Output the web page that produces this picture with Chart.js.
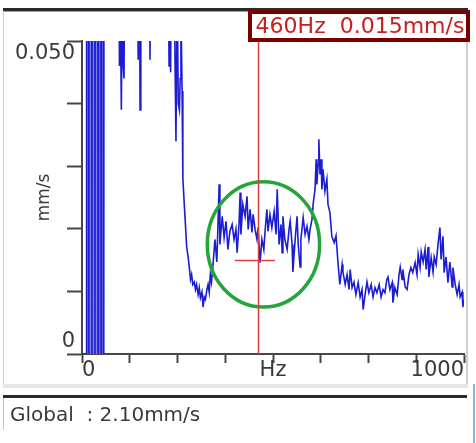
<!DOCTYPE html>
<html>
<head>
<meta charset="utf-8">
<script src="https://cdn.jsdelivr.net/npm/chart.js@4/dist/chart.umd.min.js"></script>
<style>
  html, body { margin: 0; padding: 0; background: #fff; }
  canvas { display: block; }
</style>
</head>
<body>
<canvas id="spectrum" width="476" height="443"></canvas>
<script>
// velocity spectrum: frequency (Hz) and amplitude (1/1000 mm/s)
const freqHz = [
  0, 11, 12, 17, 18, 19, 25, 26, 27, 33, 34, 35, 41, 42, 43, 49, 50, 51, 56, 57, 58,
  62, 75, 90, 95, 98, 101,
  103, 105, 107, 110, 113, 125, 140, 145, 147, 150,
  152, 154, 157, 170, 176, 178, 180, 195, 210, 220,
  224, 226, 228, 230, 232, 234, 240, 246, 249, 252,
  255, 257, 259, 262, 264, 267, 270, 274, 278, 281,
  284, 287, 290, 294, 297, 300, 304, 307, 310, 314,
  317, 320, 323, 327, 330, 333, 336, 339, 343, 348,
  353, 359, 361, 367, 372, 377, 382, 387, 393, 398,
  403, 406, 411, 414, 416, 421, 427, 432, 435, 440,
  445, 448, 453, 458, 461, 466, 471, 476, 479, 484,
  487, 492, 497, 503, 508, 511, 516, 521, 524, 526,
  531, 537, 542, 545, 550, 552, 558, 563, 566, 571,
  573, 579, 584, 589, 594, 597, 602, 605, 610, 613,
  615, 618, 620, 623, 626, 628, 631, 636, 641, 644,
  649, 654, 660, 665, 670, 675, 681, 683, 689, 694,
  699, 702, 707, 712, 717, 723, 728, 733, 736, 741,
  746, 751, 757, 762, 767, 772, 778, 783, 788, 793,
  798, 801, 806, 812, 814, 819, 825, 830, 833, 838,
  840, 846, 851, 856, 861, 866, 872, 877, 880, 885,
  888, 893, 898, 901, 906, 908, 914, 919, 922, 927,
  932, 937, 940, 945, 948, 953, 958, 963, 969, 971,
  977, 982, 987, 990, 995, 997, 1000
];
const ampUm = [
  0, 0, 150, 150, 0, 150, 150, 0, 150, 150, 0, 150, 150, 0, 150, 150, 0, 150, 150, 0, 150,
  120, 100, 95, 80, 46, 52,
  39, 55, 47, 44, 80, 95, 100, 80, 47, 70,
  39, 60, 85, 95, 75, 47, 75, 100, 90, 70,
  50, 60, 46, 52, 45, 70, 65, 34, 60, 40,
  39, 44, 55, 42, 28.2, 24.7, 21.5, 17.1, 15.4, 13.8,
  11.9, 12.7, 11.1, 11.5, 10.3, 11.1, 9.5, 10.6, 9.0, 9.9,
  7.5, 9.1, 8.7, 10.3, 11.1, 9.9, 12.7, 11.5, 14.3, 18.3,
  14.7, 27.1, 17.5, 22.0, 18.6, 21.2, 16.7, 19.6, 20.7, 18.3,
  19.9, 16.2, 20.7, 25.8, 19.1, 23.9, 22.0, 25.2, 19.9, 23.1,
  19.4, 22.3, 19.9, 18.3, 20.2, 14.6, 18.3, 16.7, 19.4, 23.1,
  19.6, 22.3, 20.2, 22.8, 19.1, 26.3, 17.5, 20.7, 16.2, 22.0,
  18.3, 16.7, 19.9, 21.2, 17.5, 13.1, 18.3, 22.0, 17.5, 13.9,
  18.3, 21.8, 19.1, 20.4, 18.3, 19.9, 21.5, 23.9, 26.3, 31.1,
  27.1, 30.3, 34.3, 28.7, 31.1, 26.3, 29.5, 26.0, 27.9, 23.9,
  22.6, 18.8, 17.8, 18.9, 14.7, 11.1, 14.3, 13.1, 11.1, 12.7,
  10.3, 13.5, 10.6, 11.5, 9.5, 11.4, 9.1, 10.3, 7.1, 9.5,
  11.5, 9.8, 11.1, 9.1, 10.6, 9.8, 11.1, 9.1, 10.3, 9.8,
  11.9, 12.3, 10.3, 11.4, 8.2, 10.6, 9.5, 12.7, 13.9, 11.9,
  13.5, 10.7, 10.3, 12.7, 13.8, 13.0, 14.6, 12.7, 15.9, 13.8,
  16.3, 14.7, 16.7, 13.5, 17.1, 12.3, 15.4, 13.1, 15.5, 14.3,
  17.5, 20.2, 15.1, 18.8, 13.0, 15.5, 11.4, 14.7, 10.7, 13.8,
  11.1, 9.5, 11.1, 9.1, 9.9, 7.5, 8.7
];
// low band where the spectrum saturates (shown as a light band)
const saturatedBandHz = [11, 57];
const xTickLabels = { 0: '0', 500: 'Hz', 1000: '1000' };
const yTickLabels = { 0: '0', 0.05: '0.050' };

// cursor readout
const cursorHz = 460;
const cursorMmS = 0.015;
const cursorSpanHz = [400, 505];
const globalMmS = 2.10;

// green ring around the 300-600 Hz zone (centre and radii in data units)
const ringHz = 475, ringUm = 17.5, ringRxHz = 147, ringRyUm = 10;

const FONT = 'DejaVu Sans';
const TEXT = '#3a3a3a';
const AXIS = '#474747';
Chart.defaults.font.family = FONT;

const points = freqHz.map((f, i) => ({ x: f, y: ampUm[i] / 1000 }));
const bandPeak = Math.max(...points.filter(p => p.x >= saturatedBandHz[0] && p.x <= saturatedBandHz[1]).map(p => p.y));
const bandPoints = saturatedBandHz.map(f => ({ x: f, y: bandPeak }));

const decorations = {
  id: 'decorations',
  beforeDraw(chart) {
    const ctx = chart.ctx;
    ctx.save();
    // panel frame
    ctx.fillStyle = '#2b2b2b';
    ctx.fillRect(3, 8, 465, 3);
    ctx.fillStyle = '#a0a0a0';
    ctx.fillRect(3, 11, 465, 1);
    ctx.fillStyle = '#cfcfcf';
    ctx.fillRect(3, 11, 1, 375);
    ctx.fillRect(466, 11, 2, 375);
    ctx.fillStyle = '#e6e6e6';
    ctx.fillRect(3, 384, 465, 4);
    ctx.fillStyle = '#2b2b2b';
    ctx.fillRect(3, 395, 464, 3);
    ctx.fillStyle = '#c4c4c4';
    ctx.fillRect(3, 398, 1, 32);
    ctx.fillStyle = '#8fb0da';
    ctx.fillRect(473, 384, 2, 59);
    ctx.restore();
  },
  afterDatasetsDraw(chart) {
    const ctx = chart.ctx;
    const xs = chart.scales.x, ys = chart.scales.y;
    ctx.save();
    // ring
    const cx = xs.getPixelForValue(ringHz), cy = ys.getPixelForValue(ringUm / 1000);
    const rx = xs.getPixelForValue(ringHz + ringRxHz) - cx;
    const ry = cy - ys.getPixelForValue((ringUm + ringRyUm) / 1000);
    ctx.strokeStyle = 'rgb(36,165,60)';
    ctx.lineWidth = 3.5;
    ctx.beginPath();
    ctx.ellipse(cx, cy, rx, ry, 0, 0, Math.PI * 2);
    ctx.stroke();
    // cursor
    const px = Math.round(xs.getPixelForValue(cursorHz)) + 0.5;
    const py = Math.round(ys.getPixelForValue(cursorMmS)) + 0.5;
    ctx.strokeStyle = 'rgb(222,64,64)';
    ctx.lineWidth = 1.5;
    ctx.beginPath();
    ctx.moveTo(px, 42);
    ctx.lineTo(px, ys.getPixelForValue(0));
    ctx.moveTo(xs.getPixelForValue(cursorSpanHz[0]), py);
    ctx.lineTo(xs.getPixelForValue(cursorSpanHz[1]), py);
    ctx.stroke();
    // readout box
    ctx.fillStyle = '#fff';
    ctx.fillRect(250, 12, 218, 28);
    ctx.strokeStyle = '#7a0000';
    ctx.lineWidth = 4;
    ctx.strokeRect(250, 12, 218, 28);
    ctx.fillStyle = 'rgb(200,32,32)';
    ctx.font = '22px "' + FONT + '"';
    ctx.textAlign = 'center';
    ctx.textBaseline = 'middle';
    ctx.fillText(cursorHz + 'Hz  ' + cursorMmS.toFixed(3) + 'mm/s', 360, 27);
    ctx.restore();
  },
  afterDraw(chart) {
    const ctx = chart.ctx;
    ctx.save();
    ctx.fillStyle = TEXT;
    ctx.font = '20px "' + FONT + '"';
    ctx.textBaseline = 'alphabetic';
    ctx.fillText('Global  : ' + globalMmS.toFixed(2) + 'mm/s', 10, 421);
    ctx.restore();
  }
};

new Chart(document.getElementById('spectrum'), {
  type: 'line',
  data: {
    datasets: [{
      label: 'Spectrum',
      data: points,
      borderColor: 'rgb(28,28,210)',
      borderWidth: 1.6,
      pointRadius: 0,
      tension: 0,
      fill: false,
      order: 0
    }, {
      label: 'Saturated band',
      data: bandPoints,
      borderWidth: 0,
      borderColor: 'rgba(0,0,0,0)',
      backgroundColor: 'rgb(128,128,226)',
      pointRadius: 0,
      tension: 0,
      fill: 'origin',
      order: 1
    }]
  },
  options: {
    responsive: false,
    animation: false,
    devicePixelRatio: 1,
    layout: { padding: { left: 0, top: 41, right: 12, bottom: 0 } },
    plugins: { legend: { display: false }, tooltip: { enabled: false } },
    scales: {
      x: {
        type: 'linear',
        min: 0,
        max: 1000,
        ticks: {
          stepSize: 125,
          autoSkip: false,
          maxRotation: 0,
          align: 'inner',
          padding: -5,
          color: TEXT,
          font: { size: 21 },
          callback: v => xTickLabels[v] ?? ''
        },
        grid: { drawOnChartArea: false, tickLength: 9, tickColor: AXIS, tickWidth: 2 },
        border: { color: AXIS, width: 2 },
        afterFit: s => { s.height = 89; }
      },
      y: {
        min: 0,
        max: 0.05,
        ticks: {
          stepSize: 0.01,
          padding: -8,
          color: TEXT,
          font: { size: 21 },
          callback: v => {
            if (Math.abs(v) < 1e-9) return [yTickLabels[0], ''];
            if (Math.abs(v - 0.05) < 1e-9) return ['', yTickLabels[0.05]];
            return '';
          }
        },
        grid: { drawOnChartArea: false, tickLength: 15, tickColor: AXIS, tickWidth: 2 },
        border: { color: AXIS, width: 2 },
        title: {
          display: true,
          text: 'mm/s',
          color: TEXT,
          font: { size: 17 },
          padding: { top: 34, bottom: 0 }
        },
        afterFit: s => { s.width = 82; }
      }
    }
  },
  plugins: [decorations]
});
</script>
</body>
</html>
